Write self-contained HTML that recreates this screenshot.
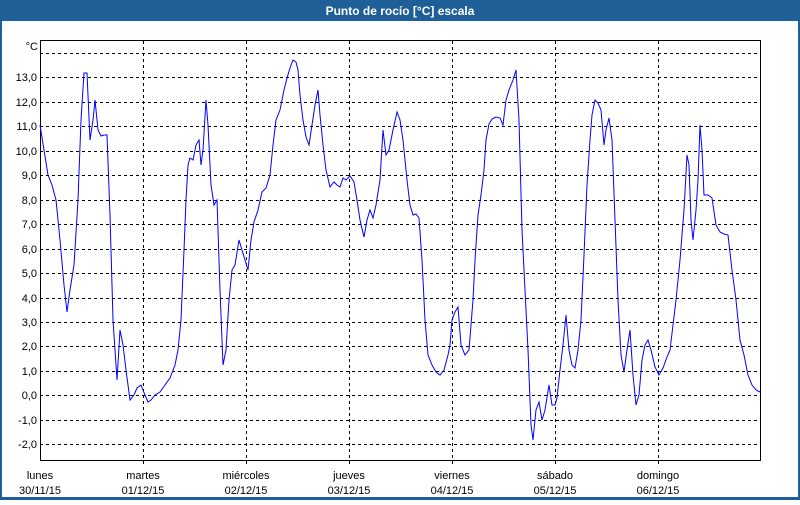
<!DOCTYPE html>
<html><head><meta charset="utf-8"><style>
html,body{margin:0;padding:0;background:#fff}
body{width:800px;height:500px;overflow:hidden;font-family:"Liberation Sans",sans-serif}
</style></head><body>
<svg width="800" height="500" xmlns="http://www.w3.org/2000/svg" font-family="Liberation Sans, sans-serif" font-size="11">
<rect x="0" y="0" width="800" height="500" fill="#1f5f98"/>
<rect x="2" y="21" width="796" height="476" fill="#fff"/>
<text x="400" y="15" fill="#fff" font-weight="bold" text-anchor="middle" font-size="12">Punto de rocío [°C] escala</text>
<g stroke="#000" stroke-dasharray="3,3" stroke-width="1">
<line x1="40" x2="760" y1="53.5" y2="53.5"/>
<line x1="40" x2="760" y1="77.5" y2="77.5"/>
<line x1="40" x2="760" y1="102.5" y2="102.5"/>
<line x1="40" x2="760" y1="126.5" y2="126.5"/>
<line x1="40" x2="760" y1="151.5" y2="151.5"/>
<line x1="40" x2="760" y1="175.5" y2="175.5"/>
<line x1="40" x2="760" y1="200.5" y2="200.5"/>
<line x1="40" x2="760" y1="224.5" y2="224.5"/>
<line x1="40" x2="760" y1="249.5" y2="249.5"/>
<line x1="40" x2="760" y1="273.5" y2="273.5"/>
<line x1="40" x2="760" y1="298.5" y2="298.5"/>
<line x1="40" x2="760" y1="322.5" y2="322.5"/>
<line x1="40" x2="760" y1="346.5" y2="346.5"/>
<line x1="40" x2="760" y1="371.5" y2="371.5"/>
<line x1="40" x2="760" y1="395.5" y2="395.5"/>
<line x1="40" x2="760" y1="420.5" y2="420.5"/>
<line x1="40" x2="760" y1="444.5" y2="444.5"/>
<line x1="143.5" x2="143.5" y1="41" y2="466"/>
<line x1="246.5" x2="246.5" y1="41" y2="466"/>
<line x1="349.5" x2="349.5" y1="41" y2="466"/>
<line x1="452.5" x2="452.5" y1="41" y2="466"/>
<line x1="555.5" x2="555.5" y1="41" y2="466"/>
<line x1="658.5" x2="658.5" y1="41" y2="466"/>
</g>
<rect x="40.5" y="40.5" width="720" height="420" fill="none" stroke="#000" stroke-width="1"/>
<g text-anchor="end" fill="#000">
<text x="38" y="50">°C</text>
<text x="37" y="81">13,0</text><text x="37" y="106">12,0</text><text x="37" y="130">11,0</text>
<text x="37" y="155">10,0</text><text x="37" y="179">9,0</text><text x="37" y="204">8,0</text>
<text x="37" y="228">7,0</text><text x="37" y="253">6,0</text><text x="37" y="277">5,0</text>
<text x="37" y="302">4,0</text><text x="37" y="326">3,0</text><text x="37" y="350">2,0</text>
<text x="37" y="375">1,0</text><text x="37" y="399">0,0</text><text x="37" y="424">-1,0</text>
<text x="37" y="448">-2,0</text>
</g>
<g text-anchor="middle" fill="#000">
<text x="40" y="479">lunes</text><text x="40" y="494">30/11/15</text>
<text x="143" y="479">martes</text><text x="143" y="494">01/12/15</text>
<text x="246" y="479">miércoles</text><text x="246" y="494">02/12/15</text>
<text x="349" y="479">jueves</text><text x="349" y="494">03/12/15</text>
<text x="452" y="479">viernes</text><text x="452" y="494">04/12/15</text>
<text x="555" y="479">sábado</text><text x="555" y="494">05/12/15</text>
<text x="658" y="479">domingo</text><text x="658" y="494">06/12/15</text>
</g>
<polyline fill="none" stroke="#0000ff" stroke-width="1" points="40,125 44,150 48,175 52,185 56,200 60,240 64,285 67,312 70,290 74,265 78,200 81,120 84,73 87,73 90,140 93,120 95,100 98,130 101,136 104,135 107,135 110,215 113,320 117,380 120,330 123,345 126,370 130,400 134,395 137,388 141,385 145,395 148,402 151,400 155,395 160,392 165,385 170,378 175,365 178,350 181,320 184,250 186,200 188,165 190,158 193,160 196,145 199,140 201,165 203,150 206,100 208,125 211,185 214,205 217,200 220,290 223,365 226,350 229,300 232,270 235,265 239,240 242,250 245,260 248,270 251,240 254,222 258,210 262,192 266,188 270,175 273,145 276,120 280,110 284,90 287,78 290,68 293,60 296,62 298,70 300,95 303,120 306,137 309,145 312,125 315,105 318,90 320,115 323,145 326,170 330,187 334,182 337,185 340,187 343,178 346,180 350,176 354,182 357,200 360,220 364,237 367,220 370,210 373,218 376,205 380,180 383,130 386,155 389,150 393,130 397,112 400,120 403,140 407,180 410,205 413,215 416,214 419,218 422,260 425,320 428,355 432,365 436,372 440,375 444,370 448,355 450,345 452,320 455,312 458,307 461,345 465,355 469,350 473,300 475,260 478,215 481,195 484,170 486,140 489,124 492,119 496,117 500,118 503,125 506,100 509,90 513,80 516,70 519,120 522,230 525,290 528,350 531,425 533,440 536,410 539,402 542,420 545,410 549,385 552,405 555,405 557,398 560,370 563,345 566,315 569,350 572,365 575,368 578,350 581,320 584,255 587,185 590,140 592,115 595,100 598,103 601,110 604,145 606,130 609,118 612,140 615,220 618,300 621,355 624,372 627,350 630,330 633,375 636,405 639,395 642,360 645,345 648,340 651,350 655,367 659,375 663,368 667,357 670,350 673,325 676,300 680,260 684,210 687,155 689,165 691,220 693,240 696,210 698,180 700,125 702,150 704,195 708,195 712,198 716,225 720,232 724,234 728,235 732,270 736,300 740,340 744,355 748,375 752,385 756,390 760,392"/>
</svg>
</body></html>
